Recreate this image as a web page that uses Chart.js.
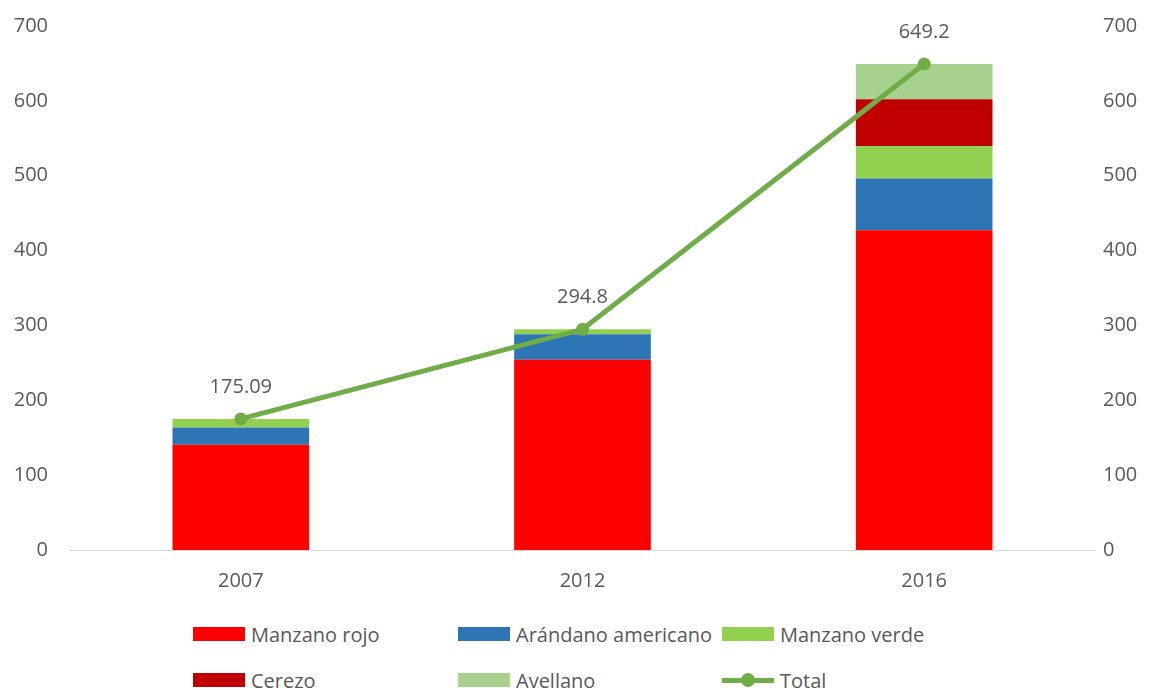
<!DOCTYPE html>
<html>
<head>
<meta charset="utf-8">
<script src="https://cdn.jsdelivr.net/npm/chart.js@4.4.1/dist/chart.umd.min.js"></script>
<style>
  html, body { margin: 0; padding: 0; background: #fff; }
  #wrap { position: relative; width: 1160px; height: 690px; }
  #chart-box { position: absolute; left: 0; top: 0; width: 1160px; height: 600px; }
  #legend {
    position: absolute; left: 193px; top: 618px;
    display: grid; grid-template-columns: 265px 264px 260px; row-gap: 14px;
    font-family: 'Open Sans', sans-serif; font-size: 20px; color: #595959;
  }
  .lg-item { display: flex; align-items: center; height: 32px; white-space: nowrap; }
  .lg-box { width: 52px; height: 14px; margin-right: 6px; }
  .lg-line { position: relative; width: 52px; height: 14px; margin-right: 6px; }
  .lg-line::before { content: ''; position: absolute; left: 0; right: 0; top: 5px; height: 5px; background: var(--c); }
  .lg-line span { position: absolute; left: 19px; top: 0; width: 14px; height: 14px; border-radius: 50%; }
</style>
</head>
<body>
<div id="wrap">
  <div id="chart-box"><canvas id="chart"></canvas></div>
  <div id="legend"></div>
</div>
<script>
'use strict';

// ── Data ──
const YEARS         = ['2007', '2012', '2016'];
const MANZANO_ROJO  = [140.5, 254.1, 427.3];
const ARANDANO      = [23.2, 34.0, 68.9];
const MANZANO_VERDE = [11.4, 6.7, 43.4];
const CEREZO        = [0, 0, 62.7];
const AVELLANO      = [0, 0, 46.9];
const TOTAL         = [175.09, 294.8, 649.2];
const TICKS         = [0, 100, 200, 300, 400, 500, 600, 700];

const FONT = "'Open Sans', sans-serif";
const GREY = '#595959';
const LINE_GREEN = '#70AD47';

const bar = (label, data, color) => ({
  type: 'bar', label, data, backgroundColor: color, borderWidth: 0,
  yAxisID: 'y', stack: 'crops', order: 1,
  categoryPercentage: 1, barPercentage: 0.4,
});

// ── Labels above the Total line points ──
const pointLabels = {
  id: 'pointLabels',
  afterDatasetsDraw(chart) {
    const ctx = chart.ctx;
    const idx = chart.data.datasets.findIndex(d => d.type === 'line');
    const meta = chart.getDatasetMeta(idx);
    ctx.save();
    ctx.font = '20px ' + FONT;
    ctx.fillStyle = GREY;
    ctx.textAlign = 'center';
    ctx.textBaseline = 'middle';
    meta.data.forEach((pt, i) => {
      ctx.fillText(String(TOTAL[i]), pt.x, pt.y - 32);
    });
    ctx.restore();
  }
};

const chart = new Chart(document.getElementById('chart'), {
  data: {
    labels: YEARS,
    datasets: [
      bar('Manzano rojo', MANZANO_ROJO, '#FF0000'),
      bar('Arándano americano', ARANDANO, '#2E75B6'),
      bar('Manzano verde', MANZANO_VERDE, '#92D050'),
      bar('Cerezo', CEREZO, '#C00000'),
      bar('Avellano', AVELLANO, '#A9D18E'),
      {
        type: 'line', label: 'Total', data: TOTAL, yAxisID: 'y2', order: 0,
        borderColor: LINE_GREEN, backgroundColor: LINE_GREEN, borderWidth: 5,
        pointRadius: 6.5, pointHoverRadius: 6.5, pointBackgroundColor: LINE_GREEN,
        pointBorderWidth: 0, tension: 0,
      },
    ],
  },
  options: {
    animation: false,
    responsive: true,
    maintainAspectRatio: false,
    layout: { padding: { top: 2, left: 0, right: 0, bottom: 0 } },
    plugins: { legend: { display: false }, tooltip: { enabled: false } },
    scales: {
      x: {
        stacked: true,
        grid: { display: false },
        border: { display: true, color: '#D9D9D9', width: 1 },
        ticks: { color: GREY, font: { family: FONT, size: 20 }, padding: 11 },
        afterFit(s) { s.height = 50; },
      },
      y: {
        stacked: true, position: 'left', min: 0, max: 700,
        afterBuildTicks(s) { s.ticks = TICKS.map(v => ({ value: v })); },
        grid: { display: false },
        border: { display: false },
        ticks: { color: GREY, font: { family: FONT, size: 20 }, padding: 14 },
        afterFit(s) { s.width = 70; },
      },
      y2: {
        position: 'right', min: 0, max: 700,
        afterBuildTicks(s) { s.ticks = TICKS.map(v => ({ value: v })); },
        grid: { display: false },
        border: { display: false },
        ticks: { color: GREY, font: { family: FONT, size: 20 }, padding: 0 },
        afterFit(s) { s.width = 65; },
      },
    },
  },
  plugins: [pointLabels],
});

// ── HTML legend in a 3-column grid, built from chart datasets ──
const legendEl = document.getElementById('legend');
chart.data.datasets.forEach(ds => {
  const item = document.createElement('div');
  item.className = 'lg-item';
  if (ds.type === 'line') {
    item.innerHTML = `<div class="lg-line" style="--c:${ds.borderColor}"><span style="background:${ds.borderColor}"></span></div>`;
  } else {
    item.innerHTML = `<div class="lg-box" style="background:${ds.backgroundColor}"></div>`;
  }
  const txt = document.createElement('span');
  txt.textContent = ds.label;
  item.appendChild(txt);
  legendEl.appendChild(item);
});
</script>
</body>
</html>
